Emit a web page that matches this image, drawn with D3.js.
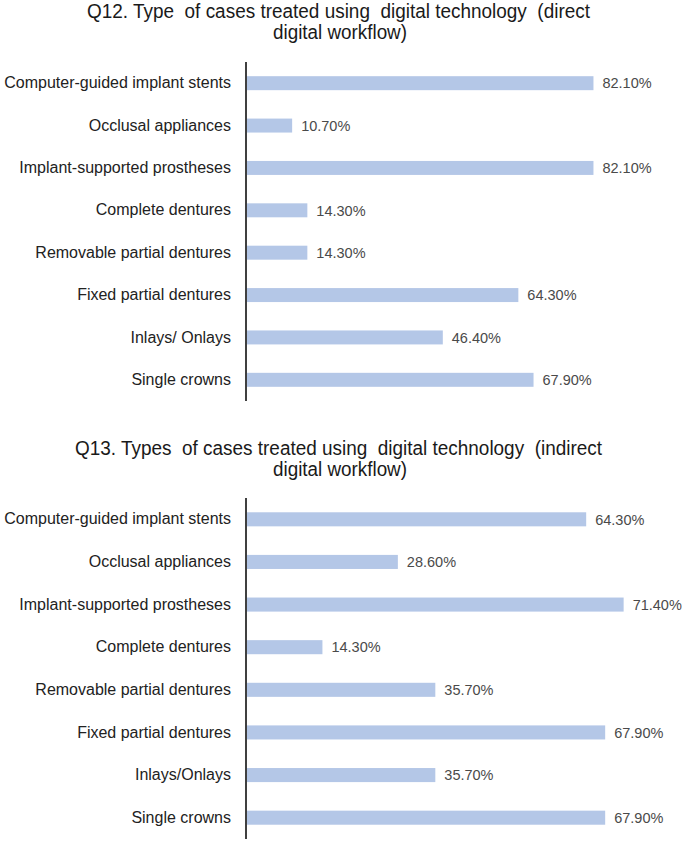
<!DOCTYPE html>
<html>
<head>
<meta charset="utf-8">
<script src="https://cdn.jsdelivr.net/npm/d3@7"></script>
<style>
  html, body { margin: 0; padding: 0; background: #fff; }
  svg { display: block; font-family: "Liberation Sans", Arial, sans-serif; }
  .ttl { white-space: pre; }
</style>
</head>
<body>
<svg id="chart" width="685" height="842"></svg>
<script>
// ---- data ----
const categoriesTop = ["Computer-guided implant stents", "Occlusal appliances", "Implant-supported prostheses", "Complete dentures", "Removable partial dentures", "Fixed partial dentures", "Inlays/ Onlays", "Single crowns"];
const valuesTop = [82.1, 10.7, 82.1, 14.3, 14.3, 64.3, 46.4, 67.9];
const titleTop = ["Q12. Type  of cases treated using  digital technology  (direct", "digital workflow)"];

const categoriesBottom = ["Computer-guided implant stents", "Occlusal appliances", "Implant-supported prostheses", "Complete dentures", "Removable partial dentures", "Fixed partial dentures", "Inlays/Onlays", "Single crowns"];
const valuesBottom = [64.3, 28.6, 71.4, 14.3, 35.7, 67.9, 35.7, 67.9];
const titleBottom = ["Q13. Types  of cases treated using  digital technology  (indirect", "digital workflow)"];

const svg = d3.select("#chart");
const barColor = "#b4c7e7";

function panel(cfg) {
  const g = svg.append("g");
  cfg.title.forEach((t, i) => {
    g.append("text")
      .attr("class", "ttl")
      .attr("xml:space", "preserve")
      .attr("x", cfg.titleX[i])
      .attr("y", cfg.titleY[i])
      .attr("text-anchor", "middle")
      .attr("font-size", 20)
      .attr("fill", "#1a1a1a")
      .attr("textLength", cfg.titleW[i])
      .attr("lengthAdjust", "spacingAndGlyphs")
      .text(t);
  });
  const x = d3.scaleLinear().domain([0, cfg.max]).range([247, 669]);
  const y = d3.scaleBand().domain(cfg.cats).range([cfg.y0, cfg.y1]).paddingInner(0.67).paddingOuter(0.335);

  g.selectAll("rect.bar").data(cfg.vals).join("rect")
    .attr("class", "bar")
    .attr("x", x(0))
    .attr("y", (d, i) => y(cfg.cats[i]))
    .attr("width", d => x(d) - x(0))
    .attr("height", y.bandwidth())
    .attr("fill", barColor);

  g.selectAll("text.val").data(cfg.vals).join("text")
    .attr("class", "val")
    .attr("x", d => x(d) + 9)
    .attr("y", (d, i) => y(cfg.cats[i]) + y.bandwidth() / 2)
    .attr("dy", "0.36em")
    .attr("font-size", 14.5)
    .attr("fill", "#4a4a4a")
    .text(d => d.toFixed(2) + "%");

  const axis = d3.axisLeft(y).tickSize(0).tickPadding(15);
  const ag = g.append("g").attr("transform", `translate(246,0)`).call(axis);
  ag.select(".domain").attr("stroke", "#000").attr("stroke-width", 1.5).attr("d", `M0,${cfg.y0}V${cfg.y1}`);
  ag.selectAll(".tick text")
    .attr("font-size", 16)
    .attr("font-family", '"Liberation Sans", Arial, sans-serif')
    .attr("fill", "#222");
}

panel({
  title: titleTop, titleX: [338.5, 340], titleY: [18, 38.5], titleW: [503, 134],
  cats: categoriesTop, vals: valuesTop, max: 100, y0: 62, y1: 401
});
panel({
  title: titleBottom, titleX: [338.5, 340], titleY: [455, 476], titleW: [527, 134],
  cats: categoriesBottom, vals: valuesBottom, max: 80, y0: 498, y1: 839
});
</script>
</body>
</html>
